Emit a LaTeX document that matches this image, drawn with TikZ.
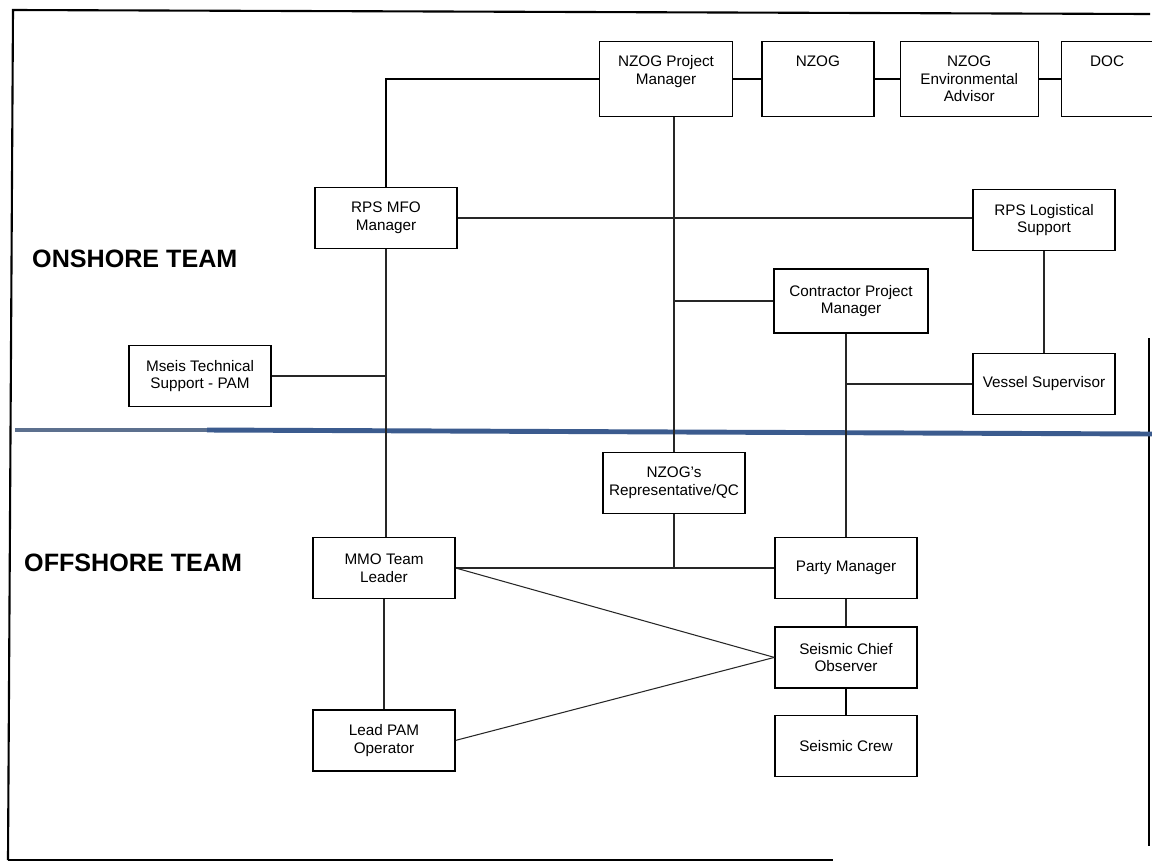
\documentclass[tikz,border=0pt]{standalone}
\usepackage{fontspec}
\setmainfont{Liberation Sans}
\usepackage{xcolor}
\usetikzlibrary{positioning,calc}

\definecolor{divider}{RGB}{59,91,142}
\definecolor{dividerfade}{RGB}{92,112,142}
\newcommand{\boxfont}{\fontsize{8.7}{10}\selectfont}
\newcommand{\teamfont}{\fontsize{14.3}{16}\selectfont\bfseries}

\begin{document}
\begin{tikzpicture}[
    x=0.02cm, y=-0.02cm,
    every node/.style={font=\boxfont},
    box/.style={
        rectangle, draw, line width=0.8pt,
        minimum width=2.84cm, minimum height=1.22cm,
        align=center, inner sep=2pt, fill=white
    },
    topbox/.style={
        box, minimum height=1.5cm
    },
    team/.style={font=\teamfont, anchor=west},
    link/.style={line width=0.6pt, draw=black!85},
    midlink/.style={line width=0.9pt},
    thicklink/.style={line width=1.3pt},
    frame/.style={line width=1.2pt}
]
\useasboundingbox (0,0) rectangle (1152,866);

% --- Page frame ---
\draw[frame] (8,860) -- (13,10) -- (1150,14);
\draw[frame] (8,860) -- (833,860);
\draw[frame] (1149,338) -- (1149,846);

% --- Onshore / offshore divider ---
\draw[line width=2.8pt, dividerfade] (15,430) -- (207,430);
\draw[line width=2.8pt, divider] (207,430) -- (1152,434);

\node[team] (onshore) at (26,259) {ONSHORE TEAM};
\node[team] (offshore) at (18,563) {OFFSHORE TEAM};

% --- Top row ---
\node[topbox, minimum width=2.66cm] (nzogpm) at (666,79) {NZOG Project\\Manager\\\phantom{M}};
\node[topbox, minimum width=2.24cm, right=0.56cm of nzogpm] (nzog) {NZOG\\\phantom{M}\\\phantom{M}};
\node[topbox, minimum width=2.76cm, right=0.5cm of nzog] (env) {NZOG\\Environmental\\Advisor};
\node[topbox, minimum width=1.82cm, right=0.44cm of env] (doc) {DOC\\\phantom{M}\\\phantom{M}};

% --- Onshore team ---
\node[box] (rpsmfo) at (386,218) {RPS MFO\\ Manager};
\node[box] (rpslog) at (1044,220) {RPS Logistical\\Support};
\node[box, minimum width=3.08cm, minimum height=1.28cm] (contractor) at (851,301) {Contractor Project\\Manager};
\node[box] (mseis) at (200,376) {Mseis Technical\\Support - PAM};
\node[box] (vessel) at (1044,384) {Vessel Supervisor};

% --- Offshore team ---
\node[box] (rep) at (674,483) {NZOG's\\Representative/QC};
\node[box] (mmo) at (384,568) {MMO Team\\Leader};
\node[box, below=2.2cm of mmo] (leadpam) {Lead PAM\\Operator};
\node[box] (party) at (846,568) {Party Manager};
\node[box, below=0.54cm of party] (chief) {Seismic Chief\\Observer};
\node[box, below=0.52cm of chief] (crew) {Seismic Crew};

% --- Connectors along the top ---
\draw[thicklink] (nzogpm.east) -- (nzog.west);
\draw[thicklink] (nzog.east) -- (env.west);
\draw[thicklink] (env.east) -- (doc.west);
\draw[midlink] (rpsmfo.north) |- (nzogpm.west);

% NZOG spine down to the representative
\draw[link] (rep.north |- nzogpm.south) -- (rep.north);
\draw[link] (rep.north |- contractor.west) -- (contractor.west);

% RPS links
\draw[link] (rpsmfo.east) -- (rpsmfo.east -| rpslog.west);
\draw[link] (rpslog.south) -- (vessel.north);
\draw[link] (mseis.east) -- (mseis.east -| rpsmfo.south);
\draw[link] (rpsmfo.south) -- (rpsmfo.south |- mmo.north);

% Contractor down to the party manager
\draw[link] (party.north |- contractor.south) -- (party.north);
\draw[link] (vessel.west) -- (vessel.west -| party.north);

% Offshore links
\draw[link] (mmo.east) -- (party.west);
\draw[link] (rep.south) -- (rep.south |- party.west);
\draw[link] (mmo.east) -- (chief.west);
\draw[link] (leadpam.east) -- (chief.west);
\draw[link] (mmo.south) -- (leadpam.north);
\draw[link] (party.south) -- (chief.north);
\draw[midlink] (chief.south) -- (crew.north);

\end{tikzpicture}
\end{document}
